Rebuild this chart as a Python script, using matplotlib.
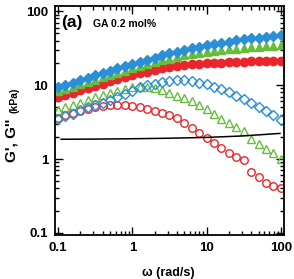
import matplotlib
matplotlib.use("Agg")
import matplotlib.pyplot as plt
from matplotlib.ticker import LogLocator, NullFormatter, FixedLocator, FixedFormatter

plt.rcParams['font.family'] = ['Liberation Sans', 'DejaVu Sans']

# angular frequency (rad/s), 10 points per decade
omega = [0.1, 0.126, 0.158, 0.2, 0.251, 0.316, 0.398, 0.501, 0.631, 0.794,
         1.0, 1.26, 1.58, 2.0, 2.51, 3.16, 3.98, 5.01, 6.31, 7.94,
         10.0, 12.6, 15.8, 20.0, 25.1, 31.6, 39.8, 50.1, 63.1, 79.4, 100.0]

# storage modulus G' (kPa)
gp_blue = [9.3, 10.0, 10.8, 11.6, 12.5, 13.5, 14.6, 15.7, 16.8, 18.0,
           19.3, 20.6, 22.0, 23.5, 25.2, 26.8, 28.4, 30.0, 31.6, 33.0,
           34.5, 36.0, 37.5, 38.8, 40.2, 41.5, 42.8, 44.0, 45.0, 46.0, 47.0]
gp_green = [8.2, 8.8, 9.5, 10.2, 11.0, 11.8, 12.7, 13.6, 14.6, 15.7,
            16.8, 18.0, 19.2, 20.4, 21.6, 22.8, 24.0, 25.2, 26.3, 27.3,
            28.2, 29.0, 29.8, 30.5, 31.2, 31.8, 32.4, 33.0, 33.6, 34.2, 35.0]
gp_red = [6.8, 7.3, 7.9, 8.5, 9.1, 9.8, 10.5, 11.2, 12.0, 12.8,
          13.6, 14.4, 15.2, 16.0, 16.8, 17.5, 18.1, 18.6, 19.0, 19.4,
          19.7, 20.0, 20.2, 20.4, 20.6, 20.8, 20.9, 21.0, 21.1, 21.2, 21.3]

# loss modulus G'' (kPa)
gpp_blue = [3.5, 3.8, 4.1, 4.6, 5.0, 5.4, 5.8, 6.3, 6.9, 7.6,
            8.4, 9.3, 9.9, 10.5, 10.9, 11.4, 11.7, 11.7, 11.2, 10.8,
            10.3, 9.5, 8.8, 8.0, 7.2, 6.5, 5.7, 5.1, 4.5, 3.9, 3.4]
gpp_green = [4.6, 5.0, 5.4, 5.8, 6.3, 6.8, 7.3, 7.8, 8.4, 8.9,
             9.3, 9.4, 9.3, 9.0, 8.5, 7.9, 7.2, 6.6, 6.0, 5.4,
             4.7, 4.1, 3.5, 3.1, 2.75, 2.4, 1.85, 1.6, 1.38, 1.2, 1.0]
gpp_red = [3.6, 3.9, 4.2, 4.5, 4.8, 5.0, 5.2, 5.3, 5.35, 5.3,
           5.2, 5.0, 4.8, 4.5, 4.2, 3.9, 3.6, 3.1, 2.6, 2.25,
           1.92, 1.64, 1.41, 1.2, 1.06, 0.97, 0.67, 0.57, 0.47, 0.43, 0.40]

# reference curve (black line)
line_omega = [0.11, 0.3, 1.0, 3.0, 10.0, 30.0, 97.0]
line_g = [1.85, 1.86, 1.88, 1.91, 1.96, 2.05, 2.22]

x_ticks = [0.1, 1, 10, 100]
x_ticklabels = ['0.1', '1', '10', '100']
y_ticks = [0.1, 1, 10, 100]
y_ticklabels = ['0.1', '1', '10', '100']

BLUE = '#2a8fd6'
GREEN = '#66bd3c'
RED = '#e8262b'

fig = plt.figure(figsize=(2.94, 2.79), dpi=100)
ax = fig.add_axes([0.187, 0.158, 0.779, 0.82])

ms_f = 6.0
ms_o = 5.4
ax.plot(omega, gpp_red, 'o', ls='none', mfc='none', mec=RED, mew=1.0, ms=ms_o)
ax.plot(omega, gpp_green, '^', ls='none', mfc='none', mec=GREEN, mew=1.0, ms=ms_o)
ax.plot(omega, gpp_blue, 'D', ls='none', mfc='none', mec=BLUE, mew=1.0, ms=ms_o - 0.6)
ax.plot(omega, gp_red, 'o', ls='none', mfc=RED, mec=RED, ms=ms_f)
ax.plot(omega, gp_green, '^', ls='none', mfc=GREEN, mec=GREEN, ms=ms_f)
ax.plot(omega, gp_blue, 'D', ls='none', mfc=BLUE, mec=BLUE, ms=ms_f - 0.5)
ax.plot(line_omega, line_g, '-', color='black', lw=1.1)

ax.set_xscale('log')
ax.set_yscale('log')
ax.set_xlim(0.091, 110)
ax.set_ylim(0.094, 117)

ax.xaxis.set_major_locator(FixedLocator(x_ticks))
ax.xaxis.set_major_formatter(FixedFormatter(x_ticklabels))
ax.yaxis.set_major_locator(FixedLocator(y_ticks))
ax.yaxis.set_major_formatter(FixedFormatter(y_ticklabels))
ax.xaxis.set_minor_locator(LogLocator(base=10, subs=range(2, 10)))
ax.yaxis.set_minor_locator(LogLocator(base=10, subs=range(2, 10)))
ax.xaxis.set_minor_formatter(NullFormatter())
ax.yaxis.set_minor_formatter(NullFormatter())

ax.tick_params(which='both', direction='in', top=True, right=True, width=1.0)
ax.tick_params(which='major', length=6, labelsize=9.5, pad=5)
ax.tick_params(which='minor', length=3)
for lab in ax.get_xticklabels() + ax.get_yticklabels():
    lab.set_fontweight('bold')
for sp in ax.spines.values():
    sp.set_linewidth(1.3)

ax.text(0.028, 0.96, '(a)', transform=ax.transAxes, fontsize=12.5, fontweight='bold',
        ha='left', va='top')
ax.text(0.165, 0.945, 'GA 0.2 mol%', transform=ax.transAxes, fontsize=7.5,
        fontweight='bold', ha='left', va='top')

fig.text(12 / 294, 1 - 140 / 279, "G', G''", rotation=90, fontsize=11,
         fontweight='bold', ha='center', va='center')
fig.text(14 / 294, 1 - 100 / 279, "(kPa)", rotation=90, fontsize=7.5,
         fontweight='bold', ha='center', va='center')
fig.text(168 / 294, 1 - 273 / 279, "ω (rad/s)", fontsize=9, fontweight='bold',
         ha='center', va='center')

fig.savefig('out.png', dpi=100)
